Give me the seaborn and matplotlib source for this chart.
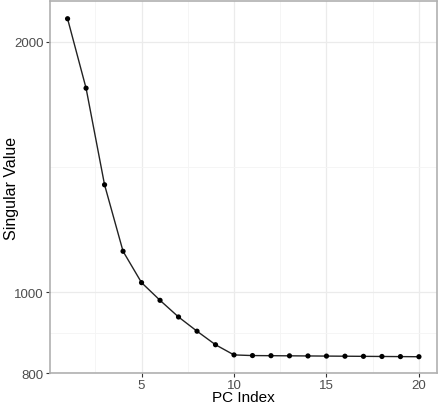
import numpy as np
import pandas as pd
import matplotlib
matplotlib.use("Agg")
import matplotlib.pyplot as plt
import matplotlib.ticker as mticker
import seaborn as sns

# ======================
# Data
# ======================

pc_index = list(range(1, 21))
singular_value = [2130, 1758, 1346, 1120, 1027, 978, 934, 898, 865, 841,
                  839.5, 839.2, 838.9, 838.6, 838.3, 838.0, 837.7, 837.4, 837.1, 836.8]

df = pd.DataFrame({"pc": pc_index, "sv": singular_value})

# ======================
# Style
# ======================

sns.set_theme(style="white")
plt.rcParams["font.family"] = ["Liberation Sans", "DejaVu Sans"]

fig = plt.figure(figsize=(4.4, 4.1), dpi=100)
ax = fig.add_axes([50 / 440, 36 / 410, 386.5 / 440, 372 / 410])

# ======================
# Plot
# ======================

sns.lineplot(data=df, x="pc", y="sv", color="#222222", linewidth=1.0, ax=ax, zorder=3)
sns.scatterplot(data=df, x="pc", y="sv", color="black", s=14, edgecolor="none", ax=ax, zorder=4)

ax.set_yscale("log")
ax.set_xlim(0.05, 20.95)
ax.set_ylim(800, 2237)

ax.xaxis.set_major_locator(mticker.FixedLocator([5, 10, 15, 20]))
ax.xaxis.set_minor_locator(mticker.FixedLocator([2.5, 7.5, 12.5, 17.5]))
ax.yaxis.set_major_locator(mticker.FixedLocator([800, 1000, 2000]))
ax.yaxis.set_minor_locator(mticker.FixedLocator([894.4, 1414.2]))
ax.yaxis.set_major_formatter(mticker.FormatStrFormatter("%d"))
ax.yaxis.set_minor_formatter(mticker.NullFormatter())

ax.grid(which="major", color="#EBEBEB", linewidth=0.9)
ax.grid(which="minor", color="#F4F4F4", linewidth=0.6)
ax.set_axisbelow(True)

for s in ax.spines.values():
    s.set_color("#B0B0B0")
    s.set_linewidth(1.2)

ax.tick_params(which="major", length=3, width=0.8, color="#333333",
               labelsize=9.5, labelcolor="#4D4D4D", pad=1.5, bottom=True, left=True)
ax.tick_params(which="minor", length=0)

ax.set_xlabel("PC Index", fontsize=11, color="black")
ax.set_ylabel("Singular Value", fontsize=11.5, color="black")
ax.xaxis.set_label_coords(0.5, -0.046)
ax.yaxis.set_label_coords(-0.119, 0.5)
ax.xaxis.label.set_va("top")
ax.yaxis.label.set_va("top")

fig.savefig("out.png", dpi=100)
